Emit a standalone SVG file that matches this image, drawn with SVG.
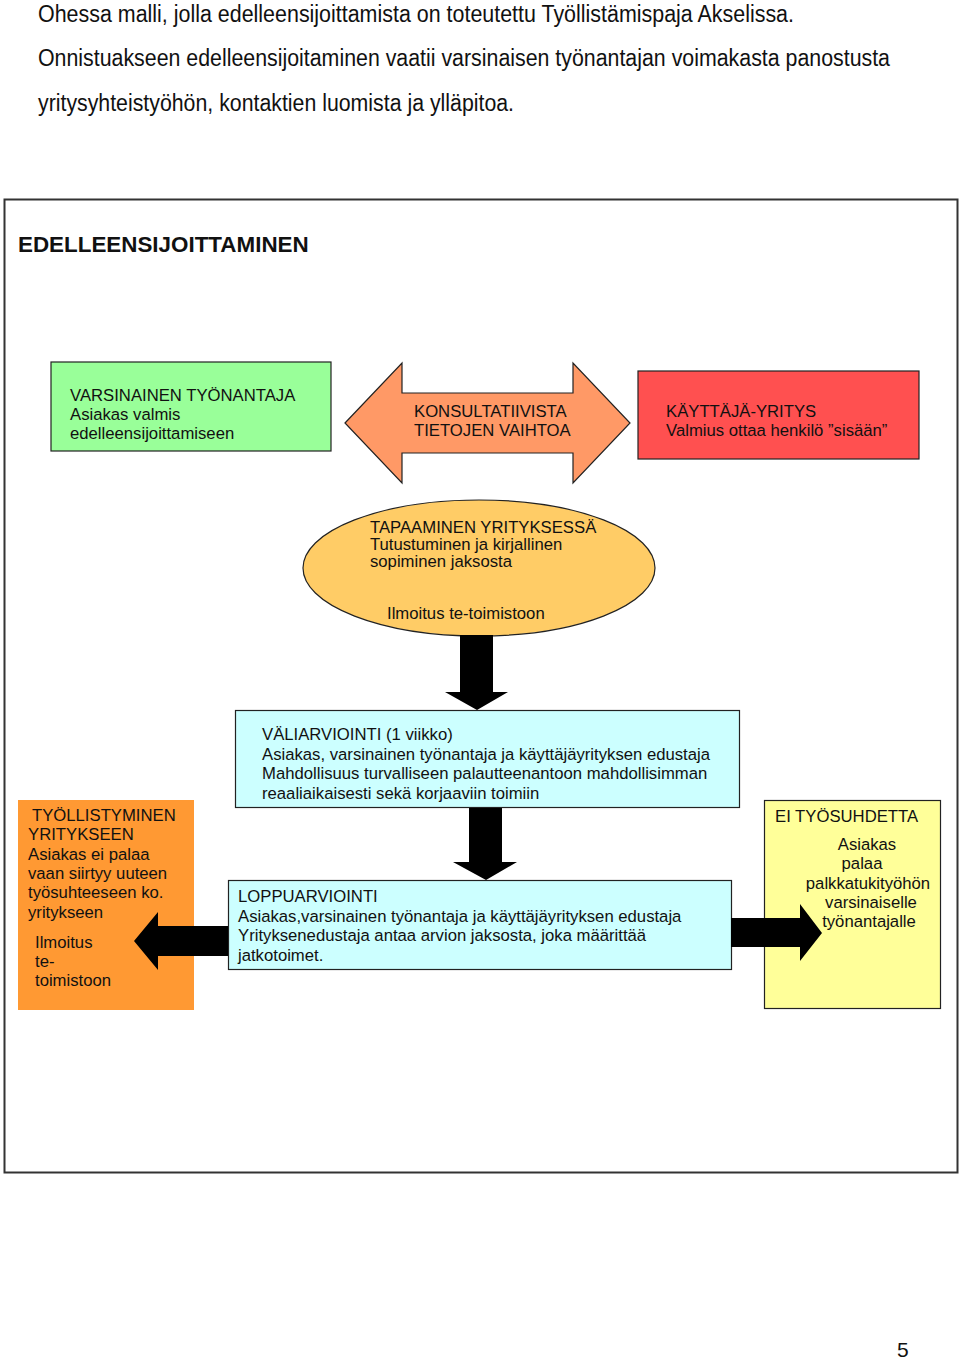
<svg xmlns="http://www.w3.org/2000/svg" width="960" height="1361" viewBox="0 0 960 1361">
<style>
text{font-family:"Liberation Sans",Arial,sans-serif;fill:#111;}
.intro{font-family:"Liberation Sans Narrow","Liberation Sans",Arial,sans-serif;font-size:23px;}
.t{font-size:16.7px;}
.box{stroke:#222;stroke-width:1.2;}
.arrow{fill:#000;}
</style>
<rect width="960" height="1361" fill="#fff"/>
<g id="intro">
<text class="intro" x="38" y="22" textLength="756" lengthAdjust="spacingAndGlyphs">Ohessa malli, jolla edelleensijoittamista on toteutettu Työllistämispaja Akselissa.</text>
<text class="intro" x="38" y="66" textLength="852" lengthAdjust="spacingAndGlyphs">Onnistuakseen edelleensijoitaminen vaatii varsinaisen työnantajan voimakasta panostusta</text>
<text class="intro" x="38" y="111" textLength="476" lengthAdjust="spacingAndGlyphs">yritysyhteistyöhön, kontaktien luomista ja ylläpitoa.</text>
</g>
<rect id="frame" x="4.5" y="199.5" width="953" height="973" fill="none" stroke="#333" stroke-width="2"/>
<text id="title" x="18" y="252" font-size="22.4" font-weight="bold">EDELLEENSIJOITTAMINEN</text>

<g id="varsinainen">
<rect class="box" x="51" y="362" width="280" height="89" fill="#99FF99"/>
<text class="t" x="70" y="401">VARSINAINEN TYÖNANTAJA</text>
<text class="t" x="70" y="420">Asiakas valmis</text>
<text class="t" x="70" y="439">edelleensijoittamiseen</text>
</g>

<g id="konsultatiivista">
<path class="box" d="M345,423 L402,363 L402,393 L573,393 L573,363 L630,423 L573,483 L573,453 L402,453 L402,483 Z" fill="#FF9966"/>
<text class="t" x="414" y="417">KONSULTATIIVISTA</text>
<text class="t" x="414" y="436">TIETOJEN VAIHTOA</text>
</g>

<g id="kayttajayritys">
<rect class="box" x="638" y="371" width="281" height="88" fill="#FF5050"/>
<text class="t" x="666" y="417">KÄYTTÄJÄ-YRITYS</text>
<text class="t" x="666" y="436">Valmius ottaa henkilö ”sisään”</text>
</g>

<g id="tapaaminen">
<ellipse class="box" cx="479" cy="568" rx="176" ry="68" fill="#FFCC66"/>
<text class="t" x="370" y="533">TAPAAMINEN YRITYKSESSÄ</text>
<text class="t" x="370" y="550">Tutustuminen ja kirjallinen</text>
<text class="t" x="370" y="567">sopiminen jaksosta</text>
<text class="t" x="387" y="619">Ilmoitus te-toimistoon</text>
</g>

<g id="valiarviointi">
<rect class="box" x="235.5" y="710.5" width="504" height="97" fill="#CCFFFF"/>
<text class="t" x="262" y="740">VÄLIARVIOINTI (1 viikko)</text>
<text class="t" x="262" y="760">Asiakas, varsinainen työnantaja ja käyttäjäyrityksen edustaja</text>
<text class="t" x="262" y="779">Mahdollisuus turvalliseen palautteenantoon mahdollisimman</text>
<text class="t" x="262" y="799">reaaliaikaisesti sekä korjaaviin toimiin</text>
</g>

<g id="loppuarviointi">
<rect class="box" x="228.5" y="880.5" width="503" height="89" fill="#CCFFFF"/>
<text class="t" x="238" y="902">LOPPUARVIOINTI</text>
<text class="t" x="238" y="922">Asiakas,varsinainen työnantaja ja käyttäjäyrityksen edustaja</text>
<text class="t" x="238" y="941">Yrityksenedustaja antaa arvion jaksosta, joka määrittää</text>
<text class="t" x="238" y="961">jatkotoimet.</text>
</g>

<g id="tyollistyminen">
<rect x="18" y="800" width="176" height="210" fill="#FF9933"/>
<text class="t" x="32" y="821">TYÖLLISTYMINEN</text>
<text class="t" x="28" y="840">YRITYKSEEN</text>
<text class="t" x="28" y="860">Asiakas ei palaa</text>
<text class="t" x="28" y="879">vaan siirtyy uuteen</text>
<text class="t" x="28" y="898">työsuhteeseen ko.</text>
<text class="t" x="28" y="918">yritykseen</text>
<text class="t" x="35" y="948">Ilmoitus</text>
<text class="t" x="35" y="967">te-</text>
<text class="t" x="35" y="986">toimistoon</text>
</g>

<g id="ei-tyosuhdetta">
<rect class="box" x="764.5" y="800.5" width="176" height="208" fill="#FFFF99"/>
<text class="t" x="775" y="822">EI TYÖSUHDETTA</text>
<text class="t" x="867" y="850" text-anchor="middle">Asiakas</text>
<text class="t" x="862" y="869" text-anchor="middle">palaa</text>
<text class="t" x="868" y="889" text-anchor="middle">palkkatukityöhön</text>
<text class="t" x="871" y="908" text-anchor="middle">varsinaiselle</text>
<text class="t" x="869" y="927" text-anchor="middle">työnantajalle</text>
</g>

<g id="connectors">
<path class="arrow" d="M460,635 L493,635 L493,692 L508,692 L477,710 L445,692 L460,692 Z"/>
<path class="arrow" d="M469,808 L502,808 L502,862 L517,862 L486,880 L453,862 L469,862 Z"/>
<path class="arrow" d="M228,926 L158,926 L158,912 L134,941 L158,970 L158,956 L228,956 Z"/>
<path class="arrow" d="M731,918 L800,918 L800,904 L822,933 L800,961 L800,947 L731,947 Z"/>
</g>

<text id="page" x="897" y="1357" font-size="21" style="font-family:'Liberation Sans Narrow','Liberation Sans',Arial,sans-serif">5</text>
</svg>
